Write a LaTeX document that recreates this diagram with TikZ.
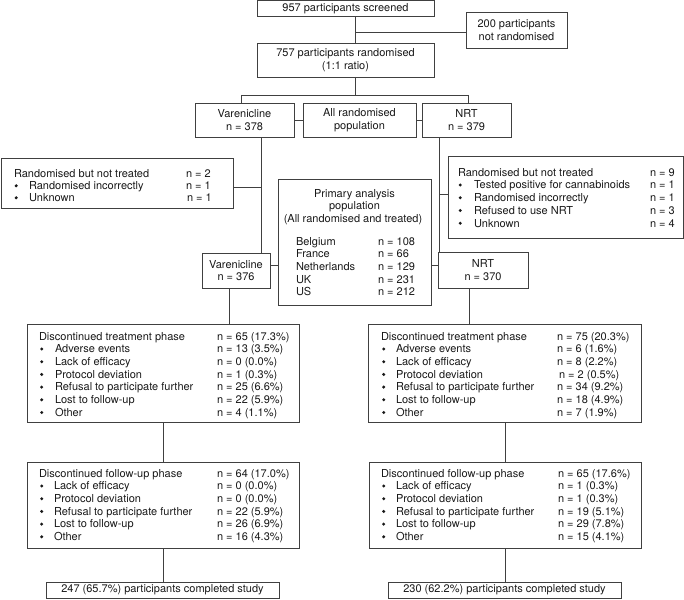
\documentclass[tikz,border=0pt]{standalone}
\usepackage{fontspec}
\setmainfont{TeX Gyre Heros}
\newcommand\hrow[6]{\node[t] (#1) at (#2,#4) {#5}; \node[t] (#1n) at (#3,#4) {#6};}
\newcommand\brow[7]{\node[bul] (#1b) at ({#2+2.2},{#5-3.7}) {}; \node[t] (#1) at (#3,#5) {#6}; \node[t] (#1n) at (#4,#5) {#7};}
\begin{document}
\begin{tikzpicture}[x=1pt,y=-1pt,
  box/.style={draw=black!75, line width=0.8pt, inner sep=0pt, outer sep=0pt, anchor=north west, align=center,
     font=\fontsize{11}{12.7}\selectfont, text=black!90},
  t/.style={anchor=base west, inner sep=0pt, outer sep=0pt, font=\fontsize{11}{12.7}\selectfont, text=black!90},
  tc/.style={anchor=base, inner sep=0pt, outer sep=0pt, font=\fontsize{11}{12.7}\selectfont, text=black!90},
  bul/.style={circle, fill=black!90, inner sep=0pt, outer sep=0pt, minimum size=3.3pt},
  conn/.style={draw=black!75, line width=0.8pt}]
\useasboundingbox (0,0) rectangle (684,599);

% boxes
\node[box, minimum width=177pt, minimum height=16pt] (screened) at (257,0.5) {957 participants screened};
\node[box, minimum width=101pt, minimum height=36pt] (notrand) at (466,12) {200 participants\\not randomised};
\node[box, minimum width=177pt, minimum height=34pt] (rand) at (257,43) {757 participants randomised\\(1:1 ratio)};
\node[box, minimum width=99pt, minimum height=34pt] (var) at (195,103) {Varenicline\\n = 378};
\node[box, minimum width=113pt, minimum height=34pt] (allr) at (303,103) {All randomised\\population};
\node[box, minimum width=89pt, minimum height=34pt] (nrt) at (422,103) {NRT\\n = 379};
\node[box, minimum width=232pt, minimum height=50pt] (notL) at (1,158) {};
\node[box, minimum width=235pt, minimum height=82pt] (notR) at (448,156) {};
\node[box, minimum width=153pt, minimum height=126pt] (prim) at (278,179) {};
\node[box, minimum width=68pt, minimum height=35pt] (var2) at (202,253) {Varenicline\\n = 376};
\node[box, minimum width=90pt, minimum height=36pt] (nrt2) at (438,252) {NRT\\n = 370};
\node[box, minimum width=272pt, minimum height=98pt] (discL) at (27,324) {};
\node[box, minimum width=273pt, minimum height=98pt] (discR) at (368,324) {};
\node[box, minimum width=272pt, minimum height=86pt] (fupL) at (27,462) {};
\node[box, minimum width=272pt, minimum height=86pt] (fupR) at (369,462) {};
\node[box, minimum width=233pt, minimum height=16pt] (compL) at (46,582) {247 (65.7\%) participants completed study};
\node[box, minimum width=233pt, minimum height=16pt] (compR) at (388,582) {230 (62.2\%) participants completed study};

% connectors
\coordinate (s1) at (355,32);
\draw[conn] (screened.south -| s1) -- (rand.north -| s1);
\draw[conn] (s1) -- (notrand.west |- s1);
\coordinate (s2) at (355,95);
\coordinate (vx) at (241,95);
\coordinate (nx) at (468,95);
\draw[conn] (rand.south -| s2) -- (s2);
\draw[conn] (vx) -- (nx);
\draw[conn] (vx) -- (var.north -| vx);
\draw[conn] (nx) -- (nrt.north -| nx);
\draw[conn] (var.east) -- (allr.west);
\draw[conn] (allr.east) -- (nrt.west);
\coordinate (vl) at (261,187);
\draw[conn] (var.south -| vl) -- (var2.north -| vl);
\draw[conn] (vl) -- (notL.east |- vl);
\coordinate (nl) at (439,194);
\draw[conn] (nrt.south -| nl) -- (nrt2.north -| nl);
\draw[conn] (nl) -- (notR.west |- nl);
\coordinate (h1) at (0,265);
\draw[conn] (var2.east |- h1) -- (prim.west |- h1);
\draw[conn] (prim.east |- h1) -- (nrt2.west |- h1);
\coordinate (c1) at (229,0);
\coordinate (c2) at (469,0);
\coordinate (c3) at (163,0);
\coordinate (c4) at (505,0);
\draw[conn] (var2.south -| c1) -- (discL.north -| c1);
\draw[conn] (nrt2.south -| c2) -- (discR.north -| c2);
\draw[conn] (discL.south -| c3) -- (fupL.north -| c3);
\draw[conn] (fupL.south -| c3) -- (compL.north -| c3);
\draw[conn] (discR.south -| c4) -- (fupR.north -| c4);
\draw[conn] (fupR.south -| c4) -- (compR.north -| c4);

% left randomised but not treated
\hrow{nl0}{14}{186}{177.5}{Randomised but not treated}{n = 2}
\brow{nl1}{14}{29}{186}{189.5}{Randomised incorrectly}{n = 1}
\brow{nl2}{14}{29}{187}{201.5}{Unknown}{n = 1}

% right randomised but not treated
\hrow{nr0}{458}{650}{176}{Randomised but not treated}{n = 9}
\brow{nr1}{458}{474}{650}{188.75}{Tested positive for cannabinoids}{n = 1}
\brow{nr2}{458}{474}{650}{201.5}{Randomised incorrectly}{n = 1}
\brow{nr3}{458}{474}{650}{214.25}{Refused to use NRT}{n = 3}
\brow{nr4}{458}{474}{650}{227}{Unknown}{n = 4}

% primary analysis
\node[tc] (p1) at (354.5,197) {Primary analysis};
\node[tc] (p2) at (354.5,209.5) {population};
\node[tc] (p3) at (353,222) {(All randomised and treated)};
\hrow{pc1}{296}{378}{245}{Belgium}{n = 108}
\hrow{pc2}{296}{378}{257.7}{France}{n = 66}
\hrow{pc3}{296}{378}{270.4}{Netherlands}{n = 129}
\hrow{pc4}{296}{378}{283.1}{UK}{n = 231}
\hrow{pc5}{296}{378}{295.8}{US}{n = 212}

% discontinued treatment, varenicline
\hrow{dl0}{39}{217}{340}{Discontinued treatment phase}{n = 65 (17.3\%)}
\brow{dl1}{39.5}{55}{217}{352.7}{Adverse events}{n = 13 (3.5\%)}
\brow{dl2}{39.5}{55}{217}{365.4}{Lack of efficacy}{n = 0 (0.0\%)}
\brow{dl3}{39.5}{55}{217}{378.1}{Protocol deviation}{n = 1 (0.3\%)}
\brow{dl4}{39.5}{55}{217}{390.8}{Refusal to participate further}{n = 25 (6.6\%)}
\brow{dl5}{39.5}{55}{217}{403.5}{Lost to follow-up}{n = 22 (5.9\%)}
\brow{dl6}{39.5}{55}{217}{416.2}{Other}{n = 4 (1.1\%)}

% discontinued treatment, NRT
\hrow{dr0}{381}{557}{340}{Discontinued treatment phase}{n = 75 (20.3\%)}
\brow{dr1}{381.5}{396}{557}{352.7}{Adverse events}{n = 6 (1.6\%)}
\brow{dr2}{381.5}{396}{557}{365.4}{Lack of efficacy}{n = 8 (2.2\%)}
\brow{dr3}{381.5}{396}{559}{378.1}{Protocol deviation}{n = 2 (0.5\%)}
\brow{dr4}{381.5}{396}{557}{390.8}{Refusal to participate further}{n = 34 (9.2\%)}
\brow{dr5}{381.5}{396}{557}{403.5}{Lost to follow-up}{n = 18 (4.9\%)}
\brow{dr6}{381.5}{396}{557}{416.2}{Other}{n = 7 (1.9\%)}

% discontinued follow-up, varenicline
\hrow{fl0}{39}{217}{477}{Discontinued follow-up phase}{n = 64 (17.0\%)}
\brow{fl1}{39.5}{54}{217}{489.7}{Lack of efficacy}{n = 0 (0.0\%)}
\brow{fl2}{39.5}{54}{217}{502.4}{Protocol deviation}{n = 0 (0.0\%)}
\brow{fl3}{39.5}{54}{217}{515.1}{Refusal to participate further}{n = 22 (5.9\%)}
\brow{fl4}{39.5}{54}{217}{527.8}{Lost to follow-up}{n = 26 (6.9\%)}
\brow{fl5}{39.5}{54}{217}{540.5}{Other}{n = 16 (4.3\%)}

% discontinued follow-up, NRT
\hrow{fr0}{381}{558}{477}{Discontinued follow-up phase}{n = 65 (17.6\%)}
\brow{fr1}{381.5}{396}{558}{489.7}{Lack of efficacy}{n = 1 (0.3\%)}
\brow{fr2}{381.5}{396}{558}{502.4}{Protocol deviation}{n = 1 (0.3\%)}
\brow{fr3}{381.5}{396}{558}{515.1}{Refusal to participate further}{n = 19 (5.1\%)}
\brow{fr4}{381.5}{396}{558}{527.8}{Lost to follow-up}{n = 29 (7.8\%)}
\brow{fr5}{381.5}{396}{558}{540.5}{Other}{n = 15 (4.1\%)}
\end{tikzpicture}
\end{document}
